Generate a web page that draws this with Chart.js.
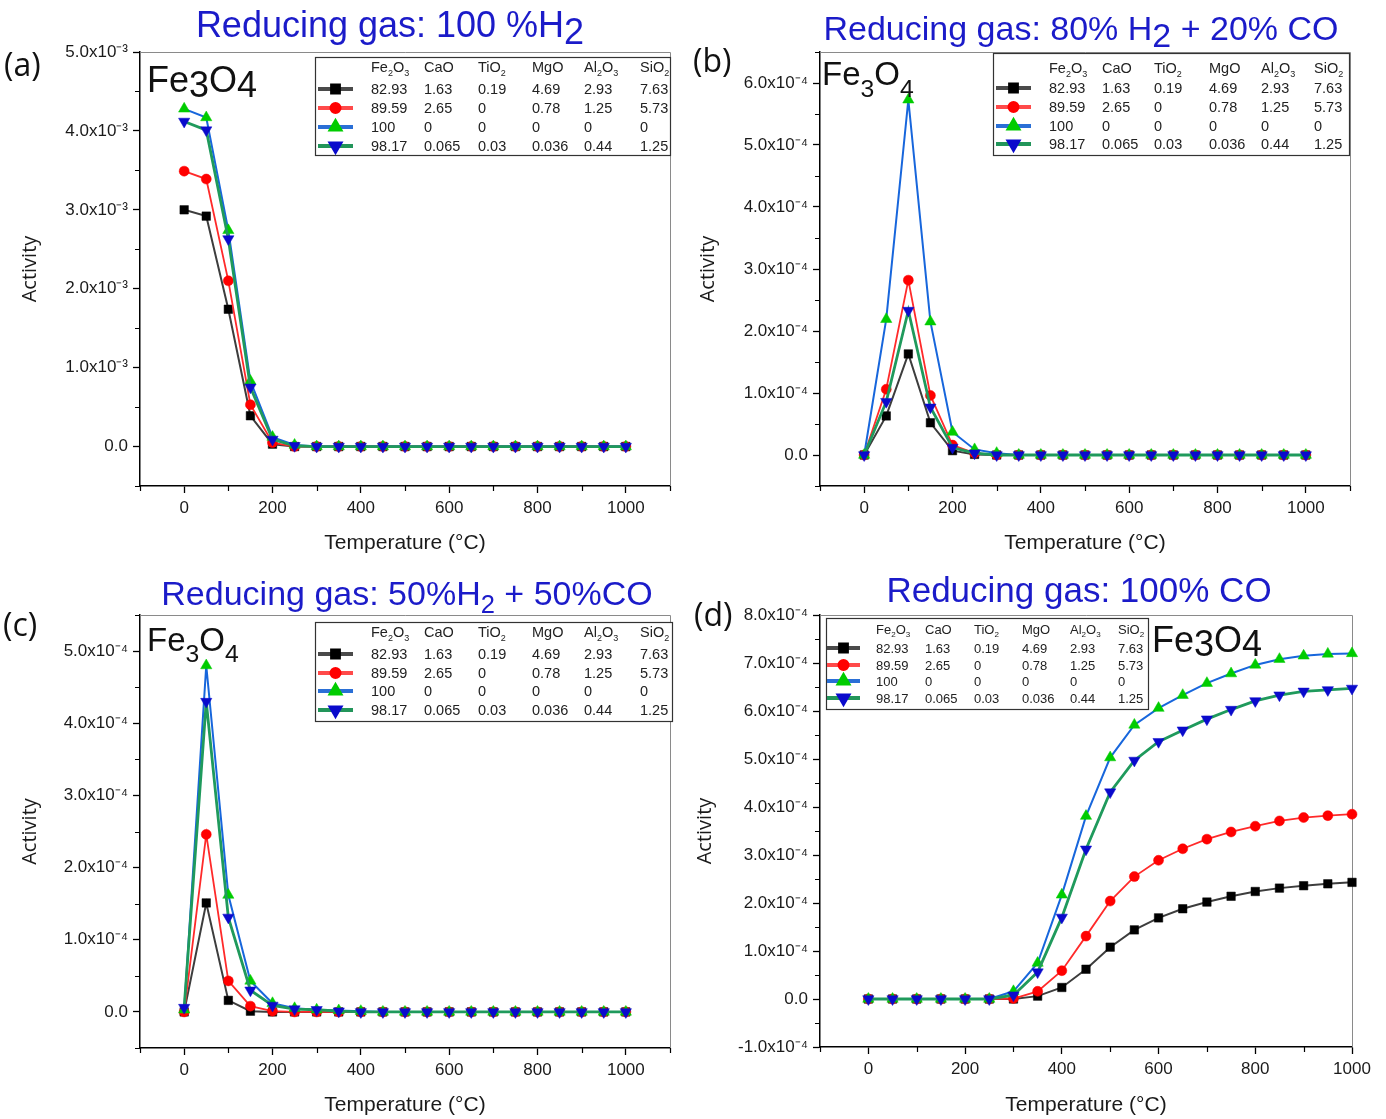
<!DOCTYPE html>
<html><head><meta charset="utf-8"><title>Fe3O4 activity vs temperature</title>
<script src="https://cdn.jsdelivr.net/npm/chart.js@4.4.1/dist/chart.umd.min.js"></script>
<style>
html,body{margin:0;padding:0;background:#fff;}
#wrap{position:relative;width:1386px;height:1119px;overflow:hidden;background:#fff;}
canvas{position:absolute;display:block;}
</style></head>
<body><div id="wrap">
<canvas id="panelA" width="693" height="560" style="left:0;top:0"></canvas>
<canvas id="panelB" width="693" height="560" style="left:693px;top:0"></canvas>
<canvas id="panelC" width="693" height="559" style="left:0;top:560px"></canvas>
<canvas id="panelD" width="693" height="559" style="left:693px;top:560px"></canvas>
</div>
<script>
// ---------------- DATA ----------------
const temperatureC = [0,50,100,150,200,250,300,350,400,450,500,550,600,650,700,750,800,850,900,950,1000];
const xTickValues = [0,200,400,600,800,1000];
const yTickValuesA = [0,1e-3,2e-3,3e-3,4e-3,5e-3];
const yTickValuesB = [0,1e-4,2e-4,3e-4,4e-4,5e-4,6e-4];
const yTickValuesC = [0,1e-4,2e-4,3e-4,4e-4,5e-4];
const yTickValuesD = [-1e-4,0,1e-4,2e-4,3e-4,4e-4,5e-4,6e-4,7e-4,8e-4];

const oxideHeaders = ['Fe_2O_3','CaO','TiO_2','MgO','Al_2O_3','SiO_2'];
const compositionSample1 = ['82.93','1.63','0.19','4.69','2.93','7.63'];
const compositionSample2 = ['89.59','2.65','0','0.78','1.25','5.73'];
const compositionSample3 = ['100','0','0','0','0','0'];
const compositionSample4 = ['98.17','0.065','0.03','0.036','0.44','1.25'];
const compositionRows = [compositionSample1, compositionSample2, compositionSample3, compositionSample4];

const titleA = 'Reducing gas: 100 %H_2';
const titleB = 'Reducing gas: 80% H_2 + 20% CO';
const titleC = 'Reducing gas: 50%H_2 + 50%CO';
const titleD = 'Reducing gas: 100% CO';
const phaseLabel = 'Fe_3O_4';
const xAxisTitle = 'Temperature (°C)';
const yAxisTitle = 'Activity';

// (a) 100% H2
const actA_s1 = [3.00e-3,2.92e-3,1.74e-3,0.39e-3,0.03e-3,0, 0,0,0,0,0, 0,0,0,0,0, 0,0,0,0,0];
const actA_s2 = [3.49e-3,3.39e-3,2.10e-3,0.53e-3,0.05e-3,0, 0,0,0,0,0, 0,0,0,0,0, 0,0,0,0,0];
const actA_s3 = [4.28e-3,4.17e-3,2.74e-3,0.83e-3,0.12e-3,0.02e-3, 0,0,0,0,0, 0,0,0,0,0, 0,0,0,0,0];
const actA_s4 = [4.12e-3,4.01e-3,2.63e-3,0.75e-3,0.09e-3,0.01e-3, 0,0,0,0,0, 0,0,0,0,0, 0,0,0,0,0];
// (b) 80% H2 + 20% CO
const actB_s1 = [0,0.63e-4,1.63e-4,0.52e-4,0.07e-4,0.01e-4, 0,0,0,0,0, 0,0,0,0,0, 0,0,0,0,0];
const actB_s2 = [0,1.06e-4,2.82e-4,0.96e-4,0.16e-4,0.03e-4, 0,0,0,0,0, 0,0,0,0,0, 0,0,0,0,0];
const actB_s3 = [0,2.19e-4,5.73e-4,2.15e-4,0.37e-4,0.09e-4, 0.03e-4,0,0,0,0, 0,0,0,0,0, 0,0,0,0,0];
const actB_s4 = [0,0.86e-4,2.33e-4,0.77e-4,0.12e-4,0.03e-4, 0,0,0,0,0, 0,0,0,0,0, 0,0,0,0,0];
// (c) 50% H2 + 50% CO
const actC_s1 = [0,1.51e-4,0.16e-4,0.01e-4,0,0, 0,0,0,0,0, 0,0,0,0,0, 0,0,0,0,0];
const actC_s2 = [0,2.46e-4,0.43e-4,0.08e-4,0.01e-4,0, 0,0,0,0,0, 0,0,0,0,0, 0,0,0,0,0];
const actC_s3 = [0.03e-4,4.80e-4,1.62e-4,0.43e-4,0.12e-4,0.05e-4, 0.03e-4,0.02e-4,0.01e-4,0,0, 0,0,0,0,0, 0,0,0,0,0];
const actC_s4 = [0.06e-4,4.30e-4,1.31e-4,0.30e-4,0.09e-4,0.04e-4, 0.03e-4,0.01e-4,0,0,0, 0,0,0,0,0, 0,0,0,0,0];
// (d) 100% CO
const actD_s1 = [0,0,0,0,0,0, 0,0.06e-4,0.24e-4,0.62e-4,1.08e-4, 1.44e-4,1.69e-4,1.88e-4,2.02e-4,2.14e-4, 2.24e-4,2.31e-4,2.36e-4,2.40e-4,2.43e-4];
const actD_s2 = [0,0,0,0,0,0, 0.01e-4,0.16e-4,0.59e-4,1.31e-4,2.04e-4, 2.55e-4,2.89e-4,3.13e-4,3.33e-4,3.48e-4, 3.60e-4,3.71e-4,3.78e-4,3.82e-4,3.85e-4];
const actD_s3 = [0,0,0,0,0,0, 0.16e-4,0.75e-4,2.17e-4,3.81e-4,5.03e-4, 5.71e-4,6.06e-4,6.33e-4,6.58e-4,6.78e-4, 6.96e-4,7.08e-4,7.15e-4,7.19e-4,7.20e-4];
const actD_s4 = [0,0,0,0,0,0, 0.08e-4,0.56e-4,1.70e-4,3.12e-4,4.31e-4, 4.97e-4,5.36e-4,5.60e-4,5.83e-4,6.03e-4, 6.21e-4,6.33e-4,6.41e-4,6.44e-4,6.47e-4];

// ---------------- STYLE ----------------
const FONT = '"Liberation Sans", Arial, Helvetica, sans-serif';
const FONT2 = '"Open Sans", "Noto Sans", sans-serif';
const TITLE_BLUE = '#1b1bc9';
const seriesStyle = [
  {line:'#3d3d3d', legendLine:'#4a4a4a', fill:'#000000', style:'rect', rot:0, r:6, w:2, order:3},
  {line:'#ff2a2a', legendLine:'#ff4a4a', fill:'#ff0000', style:'circle', rot:0, r:5, w:1.8, order:2},
  {line:'#1766dc', legendLine:'#2a6fd6', fill:'#00cc00', style:'triangle', rot:0, r:6.5, w:2, order:1},
  {line:'#1f9a5c', legendLine:'#22955a', fill:'#0a0acc', style:'triangle', rot:180, r:6.5, w:2.8, order:0}
];

Chart.defaults.font.family = FONT;
Chart.defaults.color = '#1a1a1a';

function toXY(arr){ return temperatureC.map((t,i)=>({x:t, y:arr[i]})); }
function makeDatasets(list){
  return list.map((arr,i)=>{
    const s = seriesStyle[i];
    return {data:toXY(arr), borderColor:s.line, borderWidth:s.w, pointStyle:s.style, rotation:s.rot,
      pointRadius:s.r, pointHoverRadius:s.r, pointBackgroundColor:s.fill, pointBorderColor:s.fill,
      pointBorderWidth:0.5, order:s.order, clip:false, tension:0, fill:false};
  });
}
const supMap = {'-':'⁻','0':'⁰','1':'¹','2':'²','3':'³','4':'⁴','5':'⁵','6':'⁶','7':'⁷','8':'⁸','9':'⁹'};
function sciLabel(v, exp){
  if (Math.abs(v) < 1e-15) return '0.0';
  const m = v / Math.pow(10, exp);
  return m.toFixed(1) + 'x10' + String(exp).split('').map(c=>supMap[c]).join('');
}

function segs(markup){
  const out=[]; let cur='';
  for (let i=0;i<markup.length;i++){
    const ch = markup[i];
    if (ch==='_'){ if(cur){out.push({t:cur,sub:false}); cur='';} out.push({t:markup[i+1],sub:true}); i++; }
    else cur+=ch;
  }
  if (cur) out.push({t:cur,sub:false});
  return out;
}
function drawRich(ctx, markup, x, y, o){
  const parts = segs(markup);
  const f = p => `${p.sub ? o.size*o.subScale : o.size}px ${o.family}`;
  let total = 0;
  parts.forEach(p=>{ ctx.font=f(p); p.w=ctx.measureText(p.t).width; total+=p.w; });
  let cx = o.align==='center' ? x-total/2 : x;
  ctx.fillStyle=o.color; ctx.textAlign='left'; ctx.textBaseline='alphabetic';
  parts.forEach(p=>{ ctx.font=f(p); ctx.fillText(p.t, cx, y+(p.sub?o.subDy:0)); cx+=p.w; });
}

const panels = {
  panelA: {data:[actA_s1,actA_s2,actA_s3,actA_s4], pad:{left:0,top:52,right:23,bottom:0}, yW:140, xH:74, yTP:18, xTP:4,
    xMin:-100, xMax:1100, yMin:-0.5e-3, yMax:5.0e-3, yTicks:yTickValuesA, exp:-3,
    letter:{text:'(a)', x:4, y:67}, title:{text:titleA, x:390, y:37, size:36, subScale:1, subDy:7},
    phase:{x:147, y:92, size:36, subScale:1, subDy:5},
    legend:{x:175, y:5, w:355, h:98, header:10, rows:[32,51,70,89], cols:[56,109,163,217,269,325], line:[3,38], font:14.5}},
  panelB: {data:[actB_s1,actB_s2,actB_s3,actB_s4], pad:{left:0,top:52,right:36,bottom:0}, yW:127, xH:74, yTP:3, xTP:4,
    xMin:-100, xMax:1100, yMin:-0.5e-4, yMax:6.5e-4, yTicks:yTickValuesB, exp:-4,
    letter:{text:'(b)', x:0, y:63}, title:{text:titleB, x:388, y:40, size:34, subScale:1, subDy:7},
    phase:{x:129, y:85, size:33, subScale:0.75, subDy:12},
    legend:{x:173, y:1, w:356, h:102, header:15, rows:[35,54,73,91], cols:[56,109,161,216,268,321], line:[3,38], font:14.5}},
  panelC: {data:[actC_s1,actC_s2,actC_s3,actC_s4], pad:{left:0,top:55,right:23,bottom:0}, yW:140, xH:71, yTP:18, xTP:1.5,
    xMin:-100, xMax:1100, yMin:-0.5e-4, yMax:5.5e-4, yTicks:yTickValuesC, exp:-4,
    letter:{text:'(c)', x:3, y:67}, title:{text:titleC, x:407, y:45, size:34, subScale:0.75, subDy:8},
    phase:{x:147, y:91, size:33, subScale:0.75, subDy:11},
    legend:{x:175, y:7, w:357, h:99, header:10, rows:[32,51,69,88], cols:[56,109,163,217,269,325], line:[3,38], font:14.5}},
  panelD: {data:[actD_s1,actD_s2,actD_s3,actD_s4], pad:{left:0,top:55,right:34,bottom:0}, yW:127, xH:72, yTP:0, xTP:1.5,
    xMin:-100, xMax:1000, yMin:-1e-4, yMax:8e-4, yTicks:yTickValuesD, exp:-4,
    letter:{text:'(d)', x:1, y:57}, title:{text:titleD, x:386, y:42, size:35, subScale:1, subDy:7},
    phase:{x:459, y:92, size:36, subScale:1, subDy:4},
    legend:{x:6, y:3, w:322, h:91, header:11, rows:[30,47,63,80], cols:[50,99,148,196,244,292], line:[1,34], font:13}}
};

const decorPlugin = {
  id:'decor',
  beforeDatasetsDraw(chart){
    const ca=chart.chartArea, ctx=chart.ctx;
    ctx.save(); ctx.strokeStyle='#8a8a8a'; ctx.lineWidth=1;
    ctx.beginPath(); ctx.moveTo(ca.left, ca.top+0.5); ctx.lineTo(ca.right+0.5, ca.top+0.5); ctx.lineTo(ca.right+0.5, ca.bottom);
    ctx.stroke(); ctx.restore();
  },
  afterDraw(chart){
    const P = panels[chart.canvas.id];
    const ctx = chart.ctx, ca = chart.chartArea, xs = chart.scales.x, ys = chart.scales.y;
    ctx.save();
    // minor ticks
    ctx.strokeStyle='#000'; ctx.lineWidth=1.2; ctx.beginPath();
    for (let v=P.xMin; v<=P.xMax+1e-9; v+=100){
      if (xTickValues.indexOf(v)>=0) continue;
      const px = Math.round(xs.getPixelForValue(v))+0.5;
      ctx.moveTo(px, ca.bottom); ctx.lineTo(px, ca.bottom+5);
    }
    const st = P.yTicks[1]-P.yTicks[0];
    const minors = [P.yTicks[0]-st/2].concat(P.yTicks.map(v=>v+st/2));
    minors.forEach(v=>{
      if (v < P.yMin-1e-12 || v > P.yMax+1e-12) return;
      const py = Math.round(ys.getPixelForValue(v))+0.5;
      ctx.moveTo(ca.left-5, py); ctx.lineTo(ca.left, py);
    });
    ctx.stroke();
    // panel letter
    ctx.fillStyle='#111'; ctx.font=`32px ${FONT2}`; ctx.textAlign='left'; ctx.textBaseline='middle';
    ctx.fillText(P.letter.text, P.letter.x, P.letter.y);
    // title
    drawRich(ctx, P.title.text, P.title.x, P.title.y, {size:P.title.size, family:FONT, color:TITLE_BLUE, subScale:P.title.subScale, subDy:P.title.subDy, align:'center'});
    // phase label
    drawRich(ctx, phaseLabel, P.phase.x, P.phase.y, {size:P.phase.size, family:FONT, color:'#111', subScale:P.phase.subScale, subDy:P.phase.subDy, align:'left'});
    // legend table
    const L = P.legend, bx = ca.left+L.x, by = ca.top+L.y;
    ctx.fillStyle='#fff'; ctx.fillRect(bx, by, L.w, L.h);
    ctx.strokeStyle='#333'; ctx.lineWidth=1.2; ctx.strokeRect(bx+0.5, by+0.5, L.w, L.h);
    const base = L.font*0.36;
    oxideHeaders.forEach((h,j)=> drawRich(ctx, h, bx+L.cols[j], by+L.header+base, {size:L.font, family:FONT, color:'#222', subScale:0.62, subDy:L.font*0.28, align:'left'}));
    compositionRows.forEach((row,i)=>{
      const ry = by+L.rows[i];
      const s = seriesStyle[i];
      ctx.strokeStyle=s.legendLine; ctx.lineWidth=4; ctx.beginPath();
      ctx.moveTo(bx+L.line[0], ry); ctx.lineTo(bx+L.line[1], ry); ctx.stroke();
      ctx.fillStyle=s.fill; ctx.strokeStyle=s.fill;
      Chart.helpers.drawPoint(ctx, {pointStyle:s.style, rotation:s.rot, radius:s.r*0.8, borderWidth:0.5}, bx+(L.line[0]+L.line[1])/2, ry);
      ctx.fillStyle='#222'; ctx.font=`${L.font}px ${FONT}`; ctx.textAlign='left'; ctx.textBaseline='alphabetic';
      row.forEach((t,j)=> ctx.fillText(t, bx+L.cols[j], ry+base));
    });
    ctx.restore();
  }
};

function makeChart(id){
  const P = panels[id];
  return new Chart(document.getElementById(id), {
    type:'line',
    data:{datasets:makeDatasets(P.data)},
    options:{
      responsive:false, animation:false, devicePixelRatio:1,
      layout:{padding:P.pad},
      plugins:{legend:{display:false}, tooltip:{enabled:false}, title:{display:false}},
      scales:{
        x:{type:'linear', min:P.xMin, max:P.xMax,
          afterBuildTicks:s=>{ s.ticks = xTickValues.map(v=>({value:v})); },
          afterFit:s=>{ s.height = P.xH; },
          grid:{display:true, drawOnChartArea:false, drawTicks:true, tickLength:7, tickWidth:1.3, tickColor:'#000'},
          border:{display:true, color:'#000', width:1.5},
          ticks:{font:{size:17}, color:'#1a1a1a', padding:5, maxRotation:0, autoSkip:false, callback:v=>String(v)},
          title:{display:true, text:xAxisTitle, font:{size:21}, color:'#1a1a1a', padding:{top:0, bottom:P.xTP}}
        },
        y:{type:'linear', min:P.yMin, max:P.yMax,
          afterBuildTicks:s=>{ s.ticks = P.yTicks.map(v=>({value:v})); },
          afterFit:s=>{ s.width = P.yW; },
          grid:{display:true, drawOnChartArea:false, drawTicks:true, tickLength:7, tickWidth:1.3, tickColor:'#000'},
          border:{display:true, color:'#000', width:1.5},
          ticks:{font:{size:17}, color:'#1a1a1a', padding:5, autoSkip:false, callback:v=>sciLabel(v, P.exp)},
          title:{display:true, text:yAxisTitle, font:{family:FONT2, size:20}, color:'#1a1a1a', padding:{top:P.yTP, bottom:0}}
        }
      }
    },
    plugins:[decorPlugin]
  });
}
['panelA','panelB','panelC','panelD'].forEach(makeChart);
</script></body></html>
